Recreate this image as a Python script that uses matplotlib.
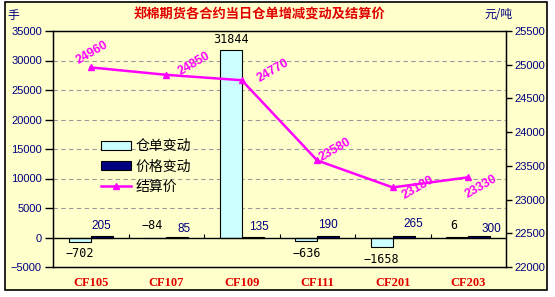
import matplotlib
matplotlib.use('Agg')
import matplotlib.pyplot as plt
from matplotlib.patches import Rectangle, Patch
from matplotlib.lines import Line2D
import numpy as np

plt.rcParams['font.family'] = ['Liberation Sans', 'Noto Sans CJK SC', 'DejaVu Sans']

# data
contracts = ['CF105', 'CF107', 'CF109', 'CF111', 'CF201', 'CF203']
warrant_change = [-702, -84, 31844, -636, -1658, 6]      # 仓单变动 (手)
price_change = [205, 85, 135, 190, 265, 300]             # 价格变动
settle_price = [24960, 24850, 24770, 23580, 23180, 23330]  # 结算价 (元/吨)

# label nudges (pixels), layout only
settle_off = [(1, 15), (28, 11), (31, 10), (18, 11), (25, 0), (13, -9)]
price_off = [(0, 10), (7, 8), (6, 10), (0, 11), (10, 12), (12, 7)]

bg = '#FFFFCC'
navy = '#000080'
magenta = '#FF00FF'
red = '#E00000'

fig = plt.figure(figsize=(5.55, 2.97), dpi=100, facecolor='white')
W, H = 555, 297
fig.patches.append(Rectangle((5 / W, 1 - 290 / H), 542 / W, 288 / H,
                             transform=fig.transFigure, facecolor=bg,
                             edgecolor='black', lw=1.2, zorder=-10))

ax = fig.add_axes([53 / W, 1 - 267 / H, 453 / W, 236 / H])
ax.set_facecolor('none')
x = np.arange(len(contracts))
bw = 0.29

ax.set_ylim(-5000, 35000)
ax.set_xlim(-0.5, len(contracts) - 0.5)
ax.set_yticks(np.arange(-5000, 35001, 5000))
for v in range(5000, 35000, 5000):
    ax.axhline(v, color='#999999', lw=0.8, ls=(0, (4, 3)), zorder=0)
ax.axhline(0, color='black', lw=1, zorder=3)
ax.vlines(np.arange(0.5, len(contracts) - 0.5, 1), 0, 550, color='black', lw=0.8, zorder=3)

ax.bar(x - bw / 2, warrant_change, bw, color='#CCFFFF', edgecolor='black', lw=0.8, zorder=2)
ax.bar(x + bw / 2, price_change, bw, color=navy, edgecolor='black', lw=0.8, zorder=2)

for i, v in enumerate(warrant_change):
    if v < -300:
        off = (0, -12)
    elif v > 1000:
        off = (0, 10)
    else:
        off = (-3, 12)
    ax.annotate(str(v).replace('-', '−'), (x[i] - bw / 2, v), xytext=off,
                textcoords='offset pixels', ha='center', va='center',
                fontsize=8.5, family='DejaVu Sans Mono', color='black')
for i, v in enumerate(price_change):
    ax.annotate(str(v), (x[i] + bw / 2, v), xytext=price_off[i],
                textcoords='offset pixels', ha='center', va='center',
                fontsize=8.5, color=navy)

ax.set_xticks(x)
ax.set_xticklabels(contracts, family='Liberation Serif', fontweight='bold',
                   fontsize=9, color=red)
ax.tick_params(axis='x', length=0, pad=7)
ax.tick_params(axis='y', direction='out', length=6, width=1, pad=2,
               labelsize=8, labelcolor=navy)
for s in ax.spines.values():
    s.set_color('black')
    s.set_linewidth(1)

ax2 = ax.twinx()
ax2.set_ylim(22000, 25500)
ax2.set_yticks(np.arange(22000, 25501, 500))
ax2.tick_params(axis='y', direction='out', length=4, width=1, pad=2,
                labelsize=8, labelcolor=navy)
ax2.plot(x, settle_price, color=magenta, lw=1.8, marker='^', ms=4.5,
         mfc=magenta, mec=magenta, zorder=4)
for i, v in enumerate(settle_price):
    ax2.annotate(str(v), (x[i], v), xytext=settle_off[i],
                 textcoords='offset pixels', ha='center', va='center',
                 rotation=30, fontsize=9, fontweight='bold', color=magenta)

handles = [Patch(facecolor='#CCFFFF', edgecolor='black', lw=0.8),
           Patch(facecolor=navy, edgecolor='black', lw=0.8),
           Line2D([], [], color=magenta, lw=1.8, marker='^', ms=4)]
ax2.legend(handles, ['仓单变动', '价格变动', '结算价'], loc='upper left',
           bbox_to_anchor=(0.093, 0.565), frameon=False,
           handlelength=2.2, handleheight=0.6, handletextpad=0.3,
           labelspacing=0.45, borderaxespad=0, prop={'family': ['Noto Sans CJK SC'], 'size': 10})

fig.text(259 / W, 1 - 15 / H, '郑棉期货各合约当日仓单增减变动及结算价', ha='center', va='center',
         fontsize=9.5, fontweight='bold', color=red, family=['Noto Sans CJK SC'])
fig.text(7 / W, 1 - 15 / H, '手', ha='left', va='center', fontsize=8.5,
         color=navy, family=['Noto Sans CJK SC'])
fig.text(513 / W, 1 - 15 / H, '元/吨', ha='right', va='center', fontsize=8.5,
         color=navy, family=['Noto Sans CJK SC'])

plt.savefig('out.png', dpi=100, facecolor=fig.get_facecolor())
